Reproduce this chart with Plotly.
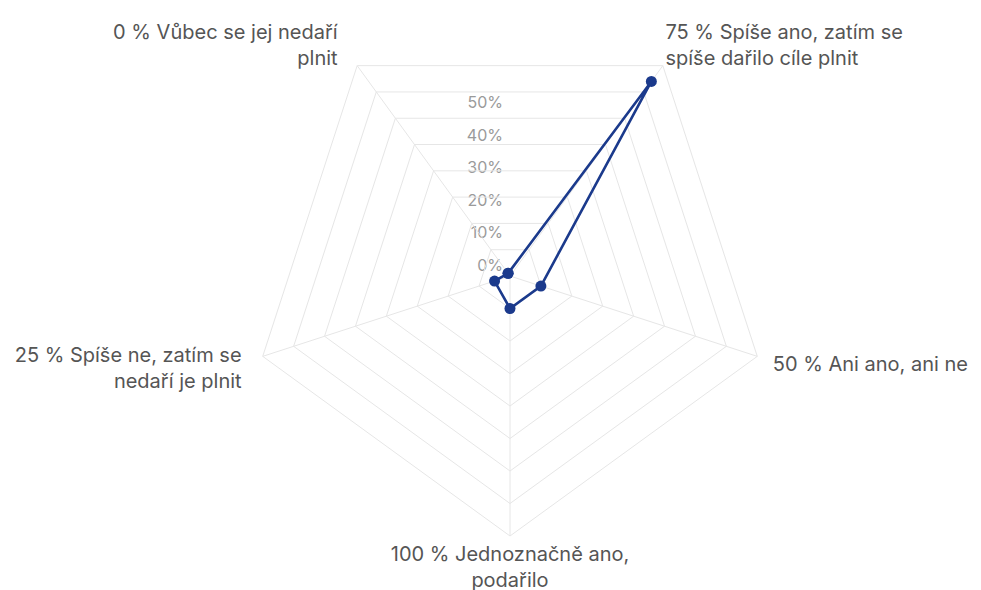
import plotly.graph_objects as go

categories = [
    "0 % Vůbec se jej nedaří plnit",
    "75 % Spíše ano, zatím se spíše dařilo cíle plnit",
    "50 % Ani ano, ani ne",
    "100 % Jednoznačně ano, podařilo",
    "25 % Spíše ne, zatím se nedaří je plnit",
]
NB = "\u00a0"
category_tick_labels = [
    "0 % Vůbec se jej nedaří" + NB * 3 + "<br>plnit" + NB * 3,
    "75 % Spíše ano, zatím se<br>spíše dařilo cíle plnit",
    NB * 2 + "50 % Ani ano, ani ne",
    "100 % Jednoznačně ano,<br>podařilo",
    "25 % Spíše ne, zatím se" + NB * 3 + "<br>nedaří je plnit" + NB * 3,
]
values = [1, 74, 10, 10, 5]
radial_ticks = [0, 10, 20, 30, 40, 50, 60, 70, 80]
label_ticks = [0, 10, 20, 30, 40, 50]
label_text = ["0%", "10%", "20%", "30%", "40%", "50%"]
r_max = 80

W, H = 981, 590
# centre / radius of the radar in figure pixels (page body adds an 8px offset)
cx, cy, R = 502, 268, 260
dom = dict(x=[(cx - R) / W, (cx + R) / W],
           y=[1 - (cy + R) / H, 1 - (cy - R) / H])

fig = go.Figure()
fig.add_trace(go.Scatterpolar(
    r=values + values[:1],
    theta=categories + categories[:1],
    mode="lines+markers",
    line=dict(color="#1b3a8c", width=2.6),
    marker=dict(color="#1b3a8c", size=11),
    hoverinfo="skip",
    showlegend=False,
))
# empty cartesian trace: its y axis carries the vertical percentage labels
fig.add_trace(go.Scatter(x=[], y=[], showlegend=False, hoverinfo="skip"))

fig.update_layout(
    width=W, height=H,
    margin=dict(l=0, r=0, t=0, b=0, autoexpand=False),
    paper_bgcolor="white",
    plot_bgcolor="rgba(0,0,0,0)",
    showlegend=False,
    font=dict(family="Inter, Roboto, sans-serif"),
    xaxis=dict(visible=False, automargin=False),
    yaxis=dict(
        domain=[1 - cy / H, 1 - (cy - R) / H],
        range=[0, r_max],
        anchor="free",
        position=495 / W,
        side="left",
        automargin=False,
        tickvals=label_ticks,
        ticktext=label_text,
        ticklabelshift=-11,
        showgrid=False,
        zeroline=False,
        showline=False,
        ticks="",
        tickfont=dict(size=16, color="#9a9a9a"),
    ),
    polar=dict(
        domain=dom,
        bgcolor="rgba(0,0,0,0)",
        gridshape="linear",
        radialaxis=dict(
            range=[0, r_max],
            tickvals=radial_ticks,
            showticklabels=False,
            showline=False,
            ticks="",
            gridcolor="#e6e6e6",
            gridwidth=1,
        ),
        angularaxis=dict(
            type="category",
            categoryorder="array",
            categoryarray=categories,
            tickmode="array",
            tickvals=categories,
            ticktext=category_tick_labels,
            rotation=126,
            direction="clockwise",
            ticks="",
            showline=True,
            linecolor="#e6e6e6",
            gridcolor="#e6e6e6",
            tickfont=dict(size=20, color="#555555"),
        ),
    ),
)

fig.write_html("out.html")
